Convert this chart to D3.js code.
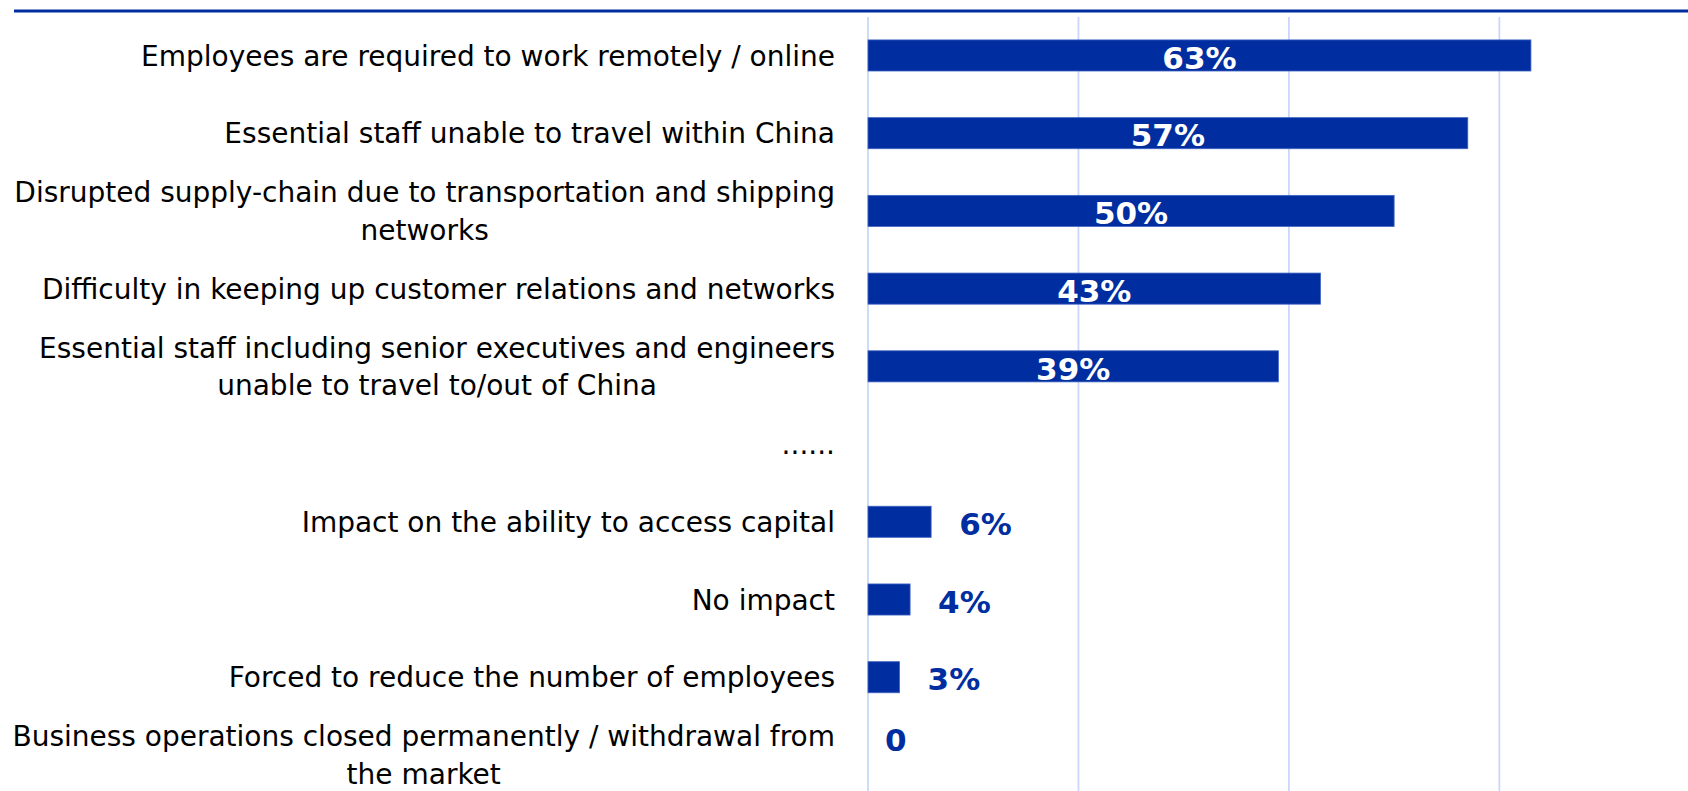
<!DOCTYPE html>
<html>
<head>
<meta charset="utf-8">
<script src="https://cdn.jsdelivr.net/npm/d3@7"></script>
<style>
  html, body { margin: 0; padding: 0; background: #fff; overflow: hidden; }
  svg { display: block; }
</style>
</head>
<body>
<svg id="chart" width="1688" height="791"></svg>
<script>
// ---- data ----
const categories = [
  "Employees are required to work remotely / online",
  "Essential staff unable to travel within China",
  "Disrupted supply-chain due to transportation and shipping|networks",
  "Difficulty in keeping up customer relations and networks",
  "Essential staff including senior executives and engineers|unable to travel to/out of China",
  "......",
  "Impact on the ability to access capital",
  "No impact",
  "Forced to reduce the number of employees",
  "Business operations closed permanently / withdrawal from|the market"
];
const values = [63, 57, 50, 43, 39, null, 6, 4, 3, 0];
const valueLabels = ["63%", "57%", "50%", "43%", "39%", "", "6%", "4%", "3%", "0"];
const gridTicks = [0, 20, 40, 60, 80];

// ---- style ----
const BLUE = "#002EA0";
const GRID = "#C9D8F8";
const FONT = "'DejaVu Sans', Verdana, sans-serif";

const svg = d3.select("#chart");
const W = 1688, H = 791;

const x = d3.scaleLinear().domain([0, 80]).range([868, 1709.8]);
const y = d3.scaleBand().domain(categories).range([16.6, 793.8])
  .paddingInner(0.6).paddingOuter(0.3);

// top rule
svg.append("line")
  .attr("x1", 14).attr("x2", W).attr("y1", 11).attr("y2", 11)
  .attr("stroke", BLUE).attr("stroke-width", 3);

// gridlines
svg.append("g").selectAll("line").data(gridTicks).join("line")
  .attr("x1", d => x(d)).attr("x2", d => x(d))
  .attr("y1", 17).attr("y2", H)
  .attr("stroke", GRID).attr("stroke-width", 1.8);

// bars
const rows = categories.map((c, i) => ({ c, v: values[i], lab: valueLabels[i] }));
svg.append("g").selectAll("rect").data(rows.filter(d => d.v !== null && d.v > 0)).join("rect")
  .attr("x", x(0))
  .attr("y", d => y(d.c))
  .attr("width", d => x(d.v) - x(0))
  .attr("height", y.bandwidth())
  .attr("fill", BLUE)
  .attr("stroke", "#3F63C3").attr("stroke-width", 0.8);

// value labels
const inside = d => d.v >= 20;
svg.append("g").selectAll("text").data(rows.filter(d => d.v !== null)).join("text")
  .attr("x", d => inside(d) ? (x(0) + x(d.v)) / 2 : x(d.v) + (d.v === 0 ? 17 : 28))
  .attr("y", d => d.v === 0 ? y(d.c) : y(d.c) + y.bandwidth() / 2 + 2)
  .attr("dy", "0.36em")
  .attr("text-anchor", d => inside(d) ? "middle" : "start")
  .attr("font-family", FONT)
  .attr("font-weight", "bold")
  .attr("font-size", 31)
  .attr("fill", d => inside(d) ? "#fff" : BLUE)
  .text(d => d.lab);

// category labels
const LABEL_RIGHT = 835;
const LINE_H = 37.5;
const lg = svg.append("g").attr("font-family", FONT).attr("font-size", 28).attr("fill", "#000");
rows.forEach(d => {
  const lines = d.c.split("|");
  const cy = y(d.c) + y.bandwidth() / 2;
  const t = lg.append("text").attr("text-anchor", "middle");
  lines.forEach((ln, k) => {
    t.append("tspan")
      .attr("y", cy + (k - (lines.length - 1) / 2) * LINE_H)
      .attr("dy", "0.36em")
      .text(ln);
  });
  let maxW = 0;
  t.selectAll("tspan").each(function () { maxW = Math.max(maxW, this.getComputedTextLength()); });
  t.selectAll("tspan").attr("x", LABEL_RIGHT - maxW / 2);
});
</script>
</body>
</html>
